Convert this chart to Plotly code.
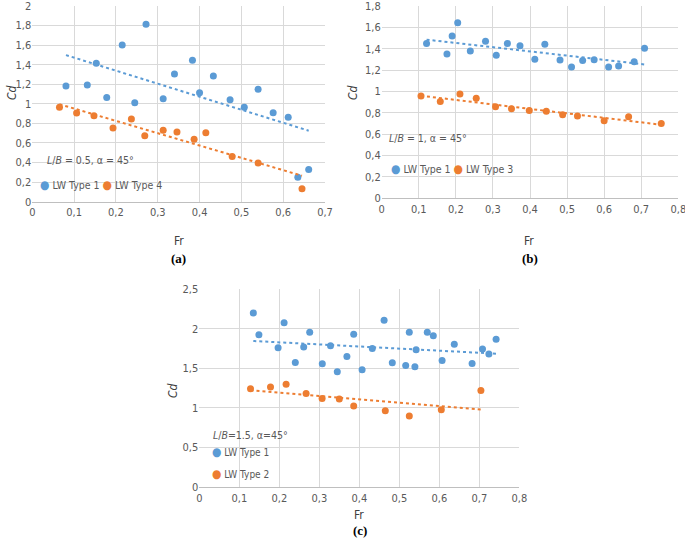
import numpy as np
import plotly.graph_objects as go

# ---------------- data ----------------
# Panel (a): L/B = 0.5, alpha = 45 deg
a_type1_fr = [0.0805, 0.1315, 0.153, 0.178, 0.215, 0.245, 0.272, 0.313, 0.340, 0.383,
              0.400, 0.433, 0.473, 0.507, 0.540, 0.576, 0.612, 0.635, 0.661]
a_type1_cd = [1.182, 1.192, 1.414, 1.066, 1.601, 1.012, 1.813, 1.053, 1.305, 1.445,
              1.114, 1.285, 1.043, 0.964, 1.148, 0.910, 0.862, 0.249, 0.330]
a_type4_fr = [0.065, 0.106, 0.1475, 0.193, 0.237, 0.269, 0.313, 0.346, 0.387, 0.415,
              0.478, 0.540, 0.645]
a_type4_cd = [0.964, 0.906, 0.879, 0.753, 0.845, 0.675, 0.729, 0.712, 0.637, 0.705,
              0.463, 0.395, 0.133]

# Panel (b): L/B = 1, alpha = 45 deg
b_type1_fr = [0.121, 0.176, 0.190, 0.205, 0.239, 0.280, 0.309, 0.339, 0.373, 0.413,
              0.440, 0.481, 0.512, 0.542, 0.573, 0.612, 0.639, 0.681, 0.709]
b_type1_cd = [1.450, 1.351, 1.519, 1.644, 1.379, 1.469, 1.338, 1.450, 1.429, 1.301,
              1.441, 1.294, 1.229, 1.291, 1.298, 1.229, 1.238, 1.279, 1.404]
b_type3_fr = [0.106, 0.158, 0.211, 0.255, 0.307, 0.350, 0.398, 0.444, 0.488, 0.528,
              0.600, 0.666, 0.754]
b_type3_cd = [0.958, 0.905, 0.976, 0.936, 0.858, 0.839, 0.823, 0.814, 0.783, 0.770,
              0.727, 0.764, 0.699]

# Panel (c): L/B = 1.5, alpha = 45 deg
c_type1_fr = [0.135, 0.149, 0.197, 0.212, 0.240, 0.261, 0.276, 0.3075, 0.328, 0.345,
              0.369, 0.386, 0.407, 0.4325, 0.462, 0.4825, 0.516, 0.525, 0.539, 0.542,
              0.570, 0.585, 0.607, 0.6375, 0.682, 0.708, 0.724, 0.742]
c_type1_cd = [2.198, 1.924, 1.759, 2.076, 1.574, 1.768, 1.954, 1.557, 1.785, 1.456,
              1.650, 1.928, 1.481, 1.751, 2.105, 1.570, 1.536, 1.954, 1.519, 1.734,
              1.954, 1.911, 1.599, 1.802, 1.561, 1.743, 1.679, 1.865]
c_type2_fr = [0.128, 0.178, 0.217, 0.267, 0.307, 0.350, 0.386, 0.465, 0.525, 0.605, 0.704]
c_type2_cd = [1.241, 1.266, 1.300, 1.181, 1.118, 1.114, 1.025, 0.966, 0.899, 0.979, 1.219]

# tick values / labels (comma decimal)
a_xtick_vals = [0, 0.1, 0.2, 0.3, 0.4, 0.5, 0.6, 0.7]
a_xtick_text = ["0", "0,1", "0,2", "0,3", "0,4", "0,5", "0,6", "0,7"]
a_ytick_vals = [0, 0.2, 0.4, 0.6, 0.8, 1.0, 1.2, 1.4, 1.6, 1.8, 2.0]
a_ytick_text = ["0", "0,2", "0,4", "0,6", "0,8", "1", "1,2", "1,4", "1,6", "1,8", "2"]
b_xtick_vals = [0, 0.1, 0.2, 0.3, 0.4, 0.5, 0.6, 0.7, 0.8]
b_xtick_text = ["0", "0,1", "0,2", "0,3", "0,4", "0,5", "0,6", "0,7", "0,8"]
b_ytick_vals = [0, 0.2, 0.4, 0.6, 0.8, 1.0, 1.2, 1.4, 1.6, 1.8]
b_ytick_text = ["0", "0,2", "0,4", "0,6", "0,8", "1", "1,2", "1,4", "1,6", "1,8"]
c_xtick_vals = b_xtick_vals
c_xtick_text = b_xtick_text
c_ytick_vals = [0, 0.5, 1.0, 1.5, 2.0, 2.5]
c_ytick_text = ["0", "0,5", "1", "1,5", "2", "2,5"]

# ---------------- styling ----------------
W, H = 685, 539
BLUE = "#5B9BD5"
ORANGE = "#ED7D31"
GRID = "#D9D9D9"
TXT = "#595959"
FONT = "Liberation Sans Narrow, DejaVu Sans Condensed, Roboto, sans-serif"


def fx(p):
    return p / W


def fy(p):
    return 1 - p / H


fig = go.Figure()

panels = [
    dict(s1=(a_type1_fr, a_type1_cd), s2=(a_type4_fr, a_type4_cd),
         xd=(32.3, 325.0), yd=(6.0, 201.7), xr=0.7, yr=2.0,
         xt=(a_xtick_vals, a_xtick_text), yt=(a_ytick_vals, a_ytick_text)),
    dict(s1=(b_type1_fr, b_type1_cd), s2=(b_type3_fr, b_type3_cd),
         xd=(381.7, 678.3), yd=(6.0, 198.3), xr=0.8, yr=1.8,
         xt=(b_xtick_vals, b_xtick_text), yt=(b_ytick_vals, b_ytick_text)),
    dict(s1=(c_type1_fr, c_type1_cd), s2=(c_type2_fr, c_type2_cd),
         xd=(199.3, 519.3), yd=(289.0, 487.3), xr=0.8, yr=2.5,
         xt=(c_xtick_vals, c_xtick_text), yt=(c_ytick_vals, c_ytick_text)),
]

for i, p in enumerate(panels):
    n = "" if i == 0 else str(i + 1)
    xa, ya = "x" + n, "y" + n
    for (xs, ys), col in ((p["s1"], BLUE), (p["s2"], ORANGE)):
        fit = np.polyfit(xs, ys, 1)
        tx = [min(xs), max(xs)]
        ty = list(np.polyval(fit, tx))
        fig.add_trace(go.Scatter(x=tx, y=ty, mode="lines", xaxis=xa, yaxis=ya,
                                 line=dict(color=col, width=2, dash="dot"),
                                 showlegend=False, hoverinfo="skip"))
        fig.add_trace(go.Scatter(x=xs, y=ys, mode="markers", xaxis=xa, yaxis=ya,
                                 marker=dict(color=col, size=7),
                                 showlegend=False))
    axstyle = dict(showgrid=True, gridcolor=GRID, gridwidth=1, zeroline=False,
                   tickfont=dict(family=FONT, size=11, color=TXT), ticks="",
                   fixedrange=True, automargin=False, ticklabeloverflow="allow")
    fig.layout["xaxis" + n] = dict(
        domain=[fx(p["xd"][0]), fx(p["xd"][1])], range=[0, p["xr"]],
        anchor=ya, tickvals=p["xt"][0], ticktext=p["xt"][1],
        showline=True, linecolor="#BFBFBF", linewidth=1, **axstyle)
    fig.layout["yaxis" + n] = dict(
        domain=[fy(p["yd"][1]), fy(p["yd"][0])], range=[0, p["yr"]],
        anchor=xa, tickvals=p["yt"][0], ticktext=p["yt"][1],
        showline=False, **axstyle)

ann = []


def text(x, y, t, size=12, color=TXT, family=FONT, angle=0, xanchor="center"):
    ann.append(dict(x=fx(x), y=fy(y), xref="paper", yref="paper", text=t,
                    showarrow=False, xanchor=xanchor, yanchor="middle",
                    borderpad=0, textangle=angle,
                    font=dict(family=family, size=size, color=color)))


def dot(c):
    return "<span style='color:%s;font-size:12px'>●</span>" % c


# axis titles
text(12, 93, "<i>Cd</i>", size=12, color="#404040", angle=-90)
text(178.5, 241, "Fr", size=12, color="#404040")
text(353, 92, "<i>Cd</i>", size=12, color="#404040", angle=-90)
text(529, 241, "Fr", size=12, color="#404040")
text(173, 391, "<i>Cd</i>", size=12, color="#404040", angle=-90)
text(359, 515, "Fr", size=12, color="#404040")

# panel labels
SERIF = "Liberation Serif, Times New Roman, serif"
text(178.5, 258, "<b>(a)</b>", size=13, color="black", family=SERIF)
text(530, 258, "<b>(b)</b>", size=13, color="black", family=SERIF)
text(360, 530, "<b>(c)</b>", size=13, color="black", family=SERIF)

# in-plot notes and legends
text(46, 160, "<i>L</i>/<i>B</i> = 0.5, α = 45°", size=10.5, xanchor="left")
text(39, 185, dot(BLUE) + " LW Type 1 " + dot(ORANGE) + " LW Type 4", size=10.5,
     xanchor="left")
text(388, 138, "<i>L</i>/<i>B</i> = 1, α = 45°", size=10.5, xanchor="left")
text(390, 169, dot(BLUE) + " LW Type 1 " + dot(ORANGE) + " LW Type 3", size=10.5,
     xanchor="left")
text(212, 435, "<i>L</i>/<i>B</i>=1.5, α=45°", size=10.5, xanchor="left")
text(211, 452, dot(BLUE) + " LW Type 1", size=10, xanchor="left")
text(211, 474, dot(ORANGE) + " LW Type 2", size=10, xanchor="left")

fig.update_layout(width=W, height=H, margin=dict(l=0, r=0, t=0, b=0),
                  paper_bgcolor="white", plot_bgcolor="white",
                  showlegend=False, annotations=ann)

fig.write_html("out.html", config={"displayModeBar": False},
               post_script="document.body.style.margin='0';"
                           "document.body.style.overflow='hidden';")
